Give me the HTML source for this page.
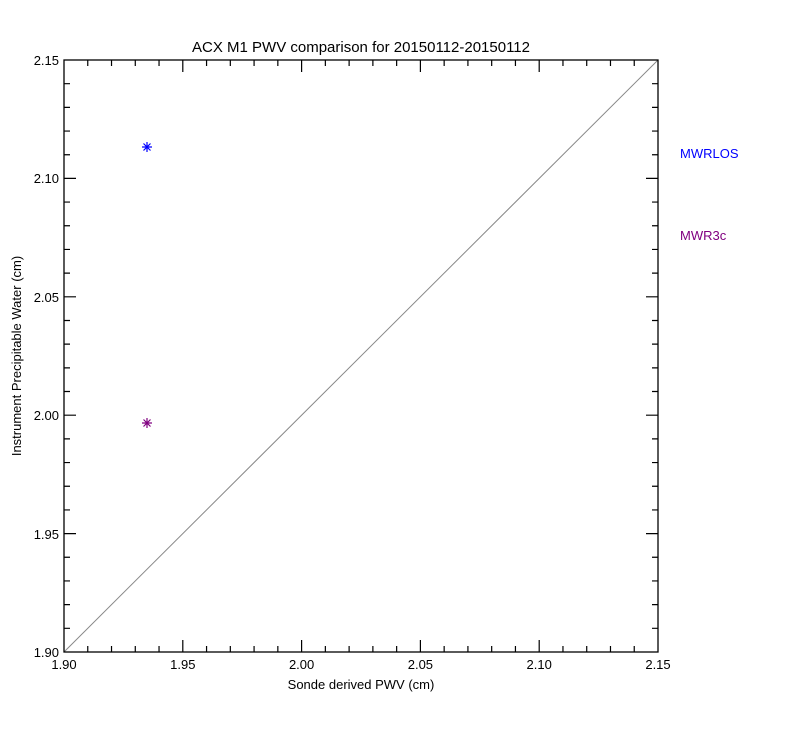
<!DOCTYPE html>
<html><head><meta charset="utf-8"><style>
html,body{margin:0;padding:0;background:#fff;}
svg{display:block;font-family:"Liberation Sans",sans-serif;}
</style></head><body>
<svg width="800" height="750" viewBox="0 0 800 750" xmlns="http://www.w3.org/2000/svg">
<rect width="800" height="750" fill="#fff"/>
<line x1="64" y1="652" x2="658" y2="60" stroke="#888" stroke-width="1"/>
<rect x="64" y="60" width="594" height="592" fill="none" stroke="#000" stroke-width="1.3"/>
<path stroke="#000" stroke-width="1.2" fill="none" d="
M87.76,652v-6M111.52,652v-6M135.28,652v-6M159.04,652v-6M182.8,652v-12M206.56,652v-6M230.32,652v-6M254.08,652v-6M277.84,652v-6M301.6,652v-12M325.36,652v-6M349.12,652v-6M372.88,652v-6M396.64,652v-6M420.4,652v-12M444.16,652v-6M467.92,652v-6M491.68,652v-6M515.44,652v-6M539.2,652v-12M562.96,652v-6M586.72,652v-6M610.48,652v-6M634.24,652v-6
M87.76,60v6M111.52,60v6M135.28,60v6M159.04,60v6M182.8,60v12M206.56,60v6M230.32,60v6M254.08,60v6M277.84,60v6M301.6,60v12M325.36,60v6M349.12,60v6M372.88,60v6M396.64,60v6M420.4,60v12M444.16,60v6M467.92,60v6M491.68,60v6M515.44,60v6M539.2,60v12M562.96,60v6M586.72,60v6M610.48,60v6M634.24,60v6
M64,83.68h6M64,107.36h6M64,131.04h6M64,154.72h6M64,178.4h12M64,202.08h6M64,225.76h6M64,249.44h6M64,273.12h6M64,296.8h12M64,320.48h6M64,344.16h6M64,367.84h6M64,391.52h6M64,415.2h12M64,438.88h6M64,462.56h6M64,486.24h6M64,509.92h6M64,533.6h12M64,557.28h6M64,580.96h6M64,604.64h6M64,628.32h6
M658,83.68h-6M658,107.36h-6M658,131.04h-6M658,154.72h-6M658,178.4h-12M658,202.08h-6M658,225.76h-6M658,249.44h-6M658,273.12h-6M658,296.8h-12M658,320.48h-6M658,344.16h-6M658,367.84h-6M658,391.52h-6M658,415.2h-12M658,438.88h-6M658,462.56h-6M658,486.24h-6M658,509.92h-6M658,533.6h-12M658,557.28h-6M658,580.96h-6M658,604.64h-6M658,628.32h-6"/>
<g font-size="13" fill="#000" text-anchor="middle">
<text x="64" y="669">1.90</text><text x="182.8" y="669">1.95</text><text x="301.6" y="669">2.00</text><text x="420.4" y="669">2.05</text><text x="539.2" y="669">2.10</text><text x="658" y="669">2.15</text>
</g>
<g font-size="13" fill="#000" text-anchor="end">
<text x="59" y="65">2.15</text><text x="59" y="183">2.10</text><text x="59" y="302">2.05</text><text x="59" y="420">2.00</text><text x="59" y="539">1.95</text><text x="59" y="657">1.90</text>
</g>
<text x="361" y="52" font-size="15" text-anchor="middle">ACX M1 PWV comparison for 20150112-20150112</text>
<text x="361" y="689" font-size="13" text-anchor="middle">Sonde derived PWV (cm)</text>
<text transform="translate(21,356) rotate(-90)" font-size="13" text-anchor="middle">Instrument Precipitable Water (cm)</text>
<g stroke="#0000ff" stroke-width="1.2"><path d="M142,147h10M147,142v10M143.5,143.5l7,7M150.5,143.5l-7,7"/></g>
<g stroke="#800080" stroke-width="1.2"><path d="M142,423h10M147,418v10M143.5,419.5l7,7M150.5,419.5l-7,7"/></g>
<text x="680" y="158" font-size="13" fill="#0000ff">MWRLOS</text>
<text x="680" y="240" font-size="13" fill="#800080">MWR3c</text>
</svg>
</body></html>
